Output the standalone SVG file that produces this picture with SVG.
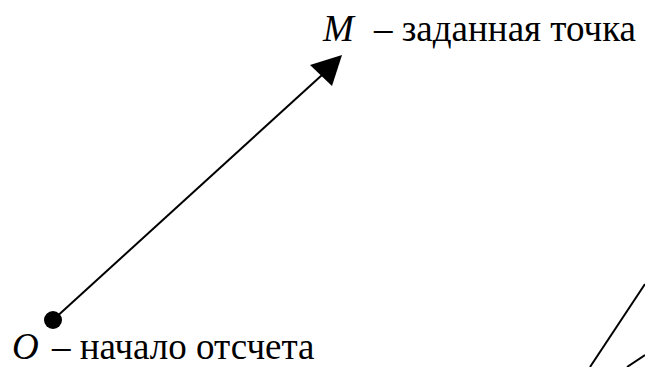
<svg xmlns="http://www.w3.org/2000/svg" width="645" height="367" viewBox="0 0 645 367">
<style>
.t{font-family:"Liberation Serif","Times New Roman",serif;font-size:37px;fill:#000}
.i{font-style:italic}
.ln{stroke:#000;stroke-width:2;fill:none}
</style>
<rect width="645" height="367" fill="#fff"/>
<g id="connectors">
<line class="ln" x1="53" y1="320" x2="322" y2="75"/>
<polygon points="342,55 310,65 332,86" fill="#000"/>
<line class="ln" x1="590" y1="367" x2="645" y2="284"/>
<line class="ln" x1="627" y1="367" x2="645" y2="355"/>
</g>
<g id="M">
<text class="t" x="323" y="41"><tspan class="i">M</tspan><tspan x="374">– заданная точка</tspan></text>
</g>
<g id="O">
<circle cx="53" cy="320" r="9" fill="#000"/>
<text class="t" x="12" y="359"><tspan class="i">O</tspan><tspan x="52">– начало отсчета</tspan></text>
</g>
</svg>
